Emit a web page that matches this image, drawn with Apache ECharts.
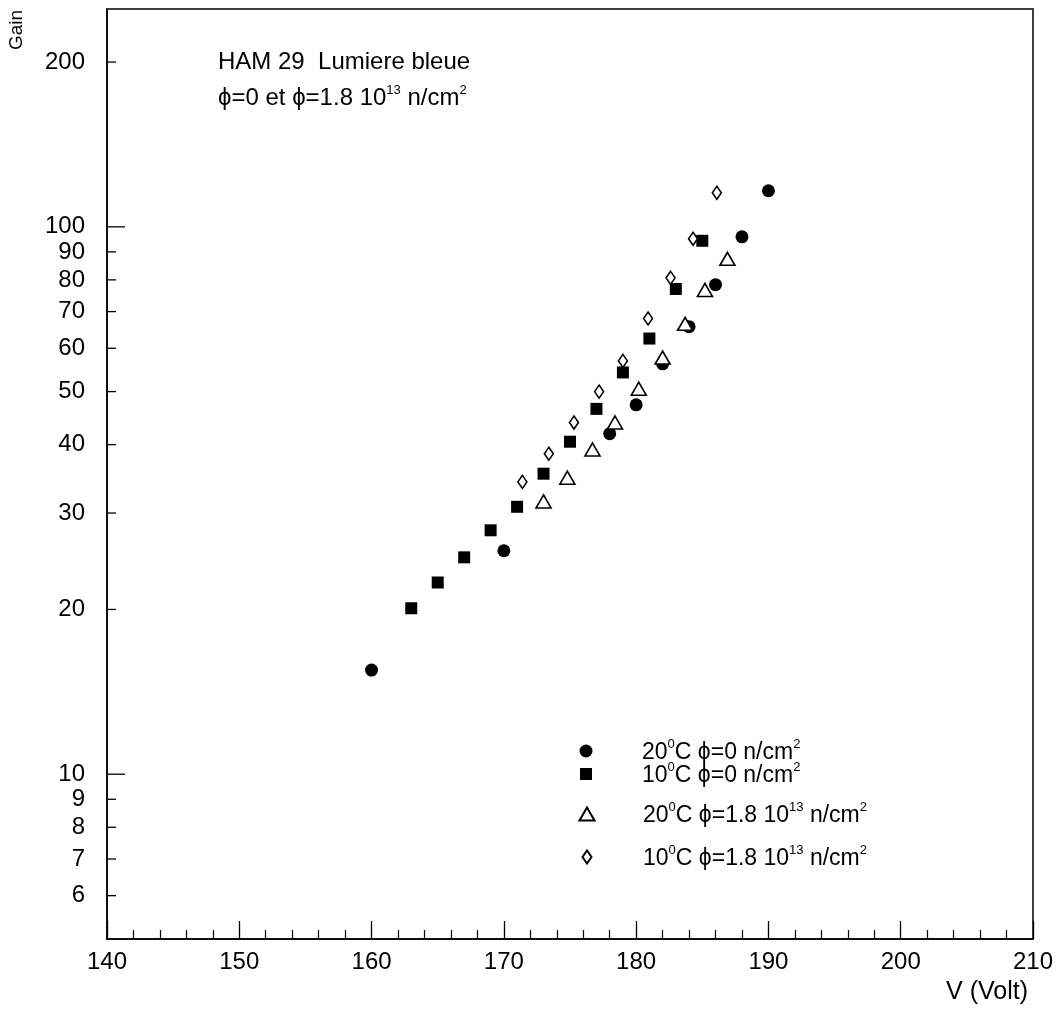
<!DOCTYPE html>
<html><head><meta charset="utf-8">
<script src="https://cdn.jsdelivr.net/npm/echarts@6/dist/echarts.min.js"></script>
<style>html,body{margin:0;padding:0;background:#fff}#c{width:1057px;height:1009px}</style>
</head><body><div id="c"></div>
<script>
// ---- data ----
const xCircle = [160, 170, 178, 180, 182, 184, 186, 188, 190];
const yCircle = [15.5, 25.6, 41.9, 47.3, 56.2, 65.7, 78.4, 95.9, 116.4];

const xSquare = [163, 165, 167, 169, 171, 173, 175, 177, 179, 181, 183, 185];
const ySquare = [20.1, 22.4, 24.9, 27.9, 30.8, 35.4, 40.5, 46.5, 54.2, 62.5, 77.0, 94.3];

const xTriangle = [173, 174.8, 176.7, 178.4, 180.2, 182.0, 183.7, 185.2, 186.9];
const yTriangle = [31.5, 34.8, 39.2, 43.9, 50.6, 57.7, 66.5, 76.7, 87.4];

const xDiamond = [171.4, 173.4, 175.3, 177.2, 179.0, 180.9, 182.6, 184.3, 186.1];
const yDiamond = [34.2, 38.5, 43.9, 50.0, 56.9, 68.0, 80.7, 95.1, 115.4];

const seriesNames = ['s20c0', 's10c0', 's20c18', 's10c18'];
const legendLabels = [
  '{n|20}{s|0}{n|C ϕ=0 n/cm}{s|2}',
  '{n|10}{s|0}{n|C ϕ=0 n/cm}{s|2}',
  '{n|20}{s|0}{n|C ϕ=1.8 10}{s|13}{n| n/cm}{s|2}',
  '{n|10}{s|0}{n|C ϕ=1.8 10}{s|13}{n| n/cm}{s|2}'
];
const yTickValues = [6, 7, 8, 9, 10, 20, 30, 40, 50, 60, 70, 80, 90, 100, 200];
const yMajorTicks = [10, 100];
const titleLine1 = 'HAM 29  Lumiere bleue';
const titleLine2 = '{n|ϕ=0 et ϕ=1.8 10}{s|13}{n| n/cm}{s|2}';

// ---- chart ----
const FONT = 'Liberation Sans';
const zip = (xs, ys) => xs.map((x, i) => [x, ys[i]]);
const rich = {
  n: {fontSize: 23, fontFamily: FONT, color: '#000', lineHeight: 26, verticalAlign: 'bottom'},
  s: {fontSize: 13, fontFamily: FONT, color: '#000', lineHeight: 13, verticalAlign: 'top'}
};
const richTitle = {
  n: {fontSize: 24, fontFamily: FONT, color: '#000', lineHeight: 27, verticalAlign: 'bottom'},
  s: {fontSize: 13, fontFamily: FONT, color: '#000', lineHeight: 13, verticalAlign: 'top'}
};

const chart = echarts.init(document.getElementById('c'), null, {renderer: 'canvas'});

const legendCenters = [746, 769, 809, 852];
const legendIcon = [
  {w: 13, h: 13}, {w: 12, h: 12}, {w: 15, h: 13}, {w: 9, h: 13}
];
const legends = seriesNames.map((nm, i) => ({
  data: [nm],
  left: 581 - legendIcon[i].w / 2,
  top: legendCenters[i] - 13,
  itemWidth: legendIcon[i].w,
  itemHeight: legendIcon[i].h,
  selectedMode: false,
  formatter: () => legendLabels[i],
  textStyle: {padding: [0, 0, 0, 637 - (581 + legendIcon[i].w / 2) - 5], rich: rich, fontFamily: FONT, fontSize: 23, color: '#000'}
}));

const markerStyle = [
  {symbol: 'circle', size: 13, fill: '#000'},
  {symbol: 'rect', size: 12, fill: '#000'},
  {symbol: 'triangle', size: [15, 13], fill: '#fff'},
  {symbol: 'diamond', size: [9, 13], fill: '#fff'}
];
const datasets = [zip(xCircle, yCircle), zip(xSquare, ySquare), zip(xTriangle, yTriangle), zip(xDiamond, yDiamond)];

const scatterSeries = seriesNames.map((nm, i) => ({
  name: nm,
  type: 'scatter',
  data: datasets[i],
  symbol: markerStyle[i].symbol,
  symbolSize: markerStyle[i].size,
  itemStyle: {color: markerStyle[i].fill, borderColor: '#000', borderWidth: markerStyle[i].fill === '#fff' ? 1.6 : 0, opacity: 1},
  emphasis: {disabled: true},
  z: 5
}));

const yTickSeries = {
  type: 'custom',
  name: 'yticks',
  data: yTickValues.map(v => [140, v]),
  clip: false,
  silent: true,
  z: 3,
  renderItem: function (params, api) {
    const v = api.value(1);
    const p = api.coord([140, v]);
    const len = yMajorTicks.indexOf(v) >= 0 ? 18 : 9;
    return {
      type: 'group',
      children: [
        {type: 'line', shape: {x1: p[0], y1: p[1], x2: p[0] + len, y2: p[1]}, style: {stroke: '#000', lineWidth: 1.3}},
        {type: 'text', x: p[0] - 22, y: p[1], style: {text: String(v), align: 'right', verticalAlign: 'middle', fontSize: 24, fontFamily: FONT, fill: '#000'}}
      ]
    };
  }
};

chart.setOption({
  animation: false,
  backgroundColor: '#fff',
  grid: {left: 107, right: 24, top: 9, bottom: 70, show: true, borderColor: '#000', borderWidth: 1.5, backgroundColor: 'transparent'},
  xAxis: {
    type: 'value', min: 140, max: 210, interval: 10,
    axisLine: {lineStyle: {color: '#000', width: 1.5}},
    axisTick: {inside: true, length: 18, lineStyle: {color: '#000', width: 1.3}},
    minorTick: {show: true, splitNumber: 5, length: 9, lineStyle: {color: '#000', width: 1.2}},
    splitLine: {show: false},
    axisLabel: {color: '#000', fontSize: 24, margin: 11, fontFamily: FONT}
  },
  yAxis: {
    type: 'log', logBase: 10, min: 5, max: 250,
    axisLine: {show: true, lineStyle: {color: '#000', width: 1.5}},
    axisTick: {show: false},
    axisLabel: {show: false},
    splitLine: {show: false},
    minorTick: {show: false}
  },
  legend: legends,
  graphic: [
    {type: 'text', x: 17, y: 30, rotation: Math.PI / 2, style: {text: 'Gain', align: 'center', verticalAlign: 'middle', fontSize: 19, fontFamily: FONT, fill: '#000'}},
    {type: 'text', x: 1028, y: 992, style: {text: 'V (Volt)', align: 'right', verticalAlign: 'middle', fontSize: 25, fontFamily: FONT, fill: '#000'}},
    {type: 'text', x: 218, y: 62, style: {text: titleLine1, align: 'left', verticalAlign: 'middle', fontSize: 24, fontFamily: FONT, fill: '#000'}},
    {type: 'text', x: 218, y: 97, style: {text: titleLine2, align: 'left', verticalAlign: 'middle', rich: richTitle}}
  ],
  series: scatterSeries.concat([yTickSeries])
});
</script>
</body></html>
